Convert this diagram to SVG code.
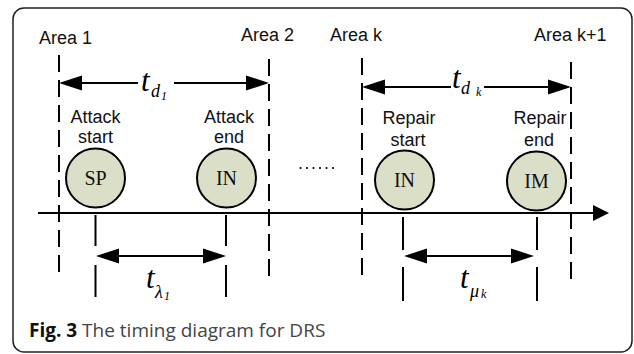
<svg xmlns="http://www.w3.org/2000/svg" width="634" height="354" viewBox="0 0 634 354">
<style>
.frame{fill:#fff;stroke:#222;stroke-width:1.5}
.dash{stroke:#000;stroke-width:2;stroke-dasharray:17 8;fill:none}
.ln{stroke:#000;stroke-width:2;fill:none}
.lbl{font-family:"Liberation Sans",Arial,sans-serif;font-size:18px;fill:#111}
.node circle{fill:#dcdfc8;stroke:#000;stroke-width:2}
.node text{font-family:"Liberation Serif","Times New Roman",serif;font-size:20px;fill:#111;text-anchor:middle}
.tm{font-family:"Liberation Serif","Times New Roman",serif;font-style:italic;fill:#000}
.cap{font-family:"Open Sans","Noto Sans",sans-serif;font-size:19px}
</style>
<defs>
<marker id="ah" markerUnits="userSpaceOnUse" markerWidth="24" markerHeight="16" refX="20" refY="8" orient="auto"><path d="M0,0.5 L23,8 L0,15.5 Z" fill="#000"/></marker>
<marker id="axh" markerUnits="userSpaceOnUse" markerWidth="17" markerHeight="18" refX="13" refY="9" orient="auto"><path d="M0,1 L16,9 L0,17 Z" fill="#000"/></marker>
</defs>
<rect class="frame" x="13" y="8" width="619" height="344" rx="11"/>

<g id="area-lines">
<line class="dash" x1="59" y1="55" x2="59" y2="276"/>
<line class="dash" x1="269" y1="59" x2="269" y2="279"/>
<line class="dash" x1="362" y1="58" x2="362" y2="279"/>
<line class="dash" x1="571" y1="62" x2="571" y2="283"/>
</g>

<g id="area-labels">
<text class="lbl" x="39" y="44">Area 1</text>
<text class="lbl" x="241" y="41">Area 2</text>
<text class="lbl" x="330" y="41">Area k</text>
<text class="lbl" x="534" y="41">Area k+1</text>
</g>

<g id="event-labels" class="lbl" text-anchor="middle">
<text x="95.5" y="123">Attack</text>
<text x="95.5" y="143">start</text>
<text x="229" y="123">Attack</text>
<text x="229" y="143">end</text>
<text x="409" y="124">Repair</text>
<text x="408" y="146">start</text>
<text x="540" y="124">Repair</text>
<text x="539" y="146">end</text>
</g>

<g id="node-sp" class="node"><circle cx="95.5" cy="178" r="29.5"/><text x="95.5" y="185">SP</text></g>
<g id="node-in1" class="node"><circle cx="226.5" cy="178" r="29.5"/><text x="226.5" y="185">IN</text></g>
<g id="node-in2" class="node"><circle cx="404.5" cy="180" r="29.5"/><text x="404.5" y="187">IN</text></g>
<g id="node-im" class="node"><circle cx="536.5" cy="181" r="29.5"/><text x="536.5" y="188">IM</text></g>

<g id="dots" fill="#000">
<circle cx="300.5" cy="168" r="1.1"/><circle cx="307" cy="168" r="1.1"/><circle cx="313.5" cy="168" r="1.1"/><circle cx="320" cy="168" r="1.1"/><circle cx="326.5" cy="168" r="1.1"/><circle cx="333" cy="168" r="1.1"/>
</g>

<g id="connectors">
<line class="ln" x1="38" y1="213" x2="606" y2="213" marker-end="url(#axh)"/>
<line class="ln" x1="138" y1="83" x2="62" y2="83" marker-end="url(#ah)"/>
<line class="ln" x1="174" y1="83" x2="266" y2="83" marker-end="url(#ah)"/>
<line class="ln" x1="451" y1="87" x2="365" y2="87" marker-end="url(#ah)"/>
<line class="ln" x1="484" y1="87" x2="568" y2="87" marker-end="url(#ah)"/>
<line class="ln" x1="160" y1="256" x2="99" y2="256" marker-end="url(#ah)"/>
<line class="ln" x1="160" y1="256" x2="223" y2="256" marker-end="url(#ah)"/>
<line class="ln" x1="470" y1="256" x2="407" y2="256" marker-end="url(#ah)"/>
<line class="ln" x1="470" y1="256" x2="531" y2="256" marker-end="url(#ah)"/>
<path class="ln" d="M95.5,215 V246 M95.5,265 V297 M226,215 V246 M226,265 V297 M403,217 V250 M403,267 V301 M537,217 V250 M537,267 V301"/>
</g>

<g id="time-labels">
<text class="tm" x="141" y="91" font-size="31">t</text>
<text class="tm" x="151" y="97" font-size="18">d</text>
<text class="tm" x="161" y="100" font-size="12" font-style="normal">1</text>
<text class="tm" x="452" y="88" font-size="31">t</text>
<text class="tm" x="461" y="94" font-size="18">d</text>
<text class="tm" x="476" y="96" font-size="12">k</text>
<text class="tm" x="146" y="288" font-size="31">t</text>
<text class="tm" x="155" y="298" font-size="18">λ</text>
<text class="tm" x="164" y="300" font-size="12" font-style="normal">1</text>
<text class="tm" x="460" y="288" font-size="31">t</text>
<text class="tm" x="470" y="297" font-size="18">μ</text>
<text class="tm" x="481" y="298" font-size="12" font-style="normal">k</text>
</g>

<text class="cap" x="29" y="337"><tspan font-weight="bold" fill="#111">Fig. 3</tspan><tspan fill="#444"> The timing diagram for DRS</tspan></text>
</svg>
